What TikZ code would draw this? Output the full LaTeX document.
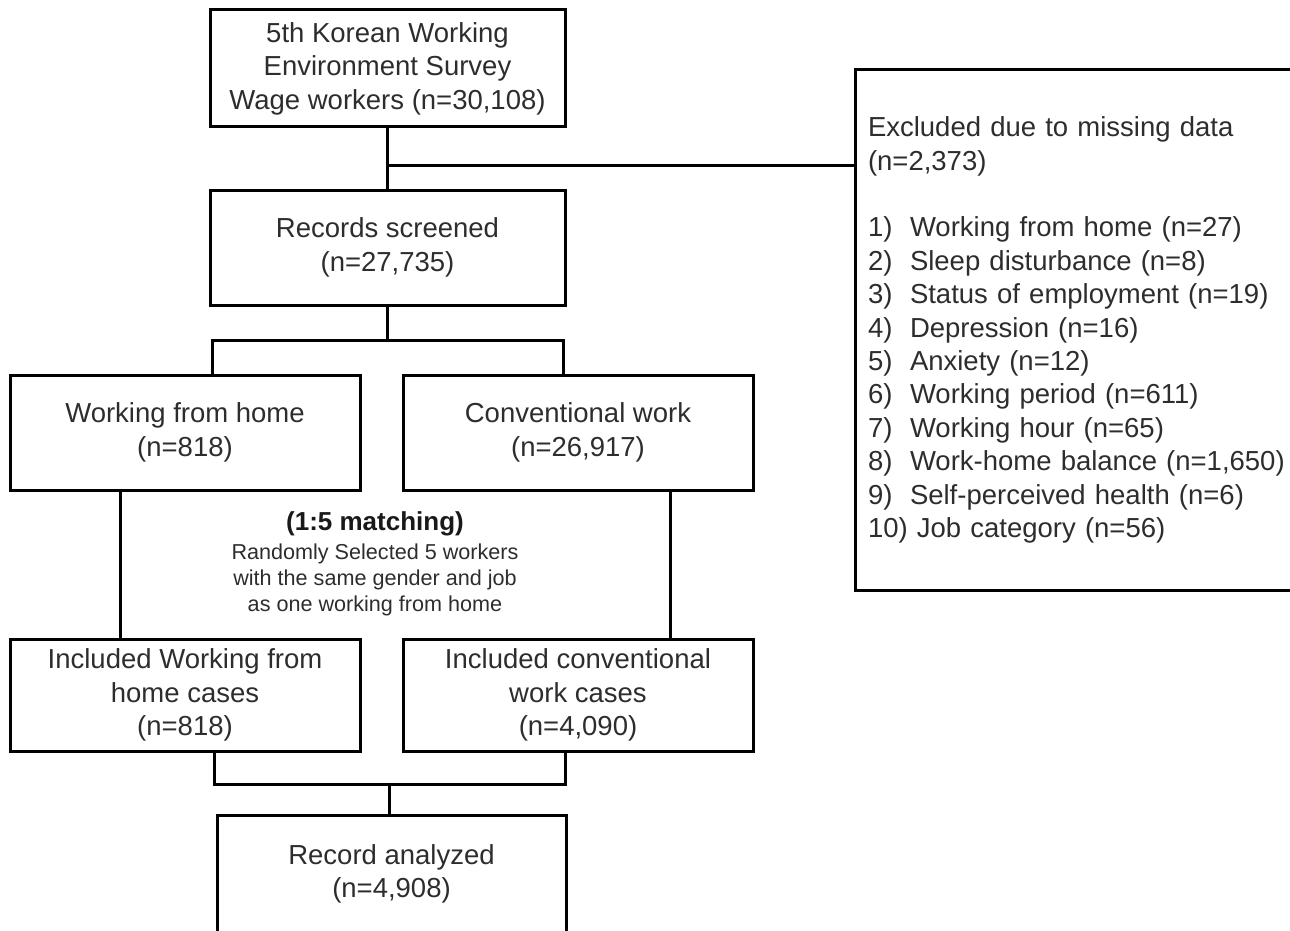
\documentclass[tikz,border=0pt]{standalone}
\usepackage{fontspec}
\setmainfont{Liberation Sans}
\usetikzlibrary{positioning,calc}
\definecolor{textgray}{RGB}{45,45,45}
\newcommand{\bodyfont}{\fontsize{27.5}{33.4}\selectfont}
\newcommand{\notefont}{\fontsize{21.6}{26}\selectfont}
\newcommand{\itm}[1]{\makebox[42pt][l]{#1)}}

\begin{document}
\begin{tikzpicture}[x=1pt, y=-1pt,
    stage/.style={draw, line width=3pt, minimum width=355pt, minimum height=116pt, font=\bodyfont, text=textgray, align=center},
    group/.style={stage, minimum width=350pt},
    exclusion/.style={draw, line width=3pt, minimum width=446pt, minimum height=520pt, text width=420pt, inner xsep=13pt, font=\bodyfont, text=textgray, align=left},
    note/.style={font=\notefont, text=textgray, align=center},
    link/.style={line width=3pt}
]
    \useasboundingbox (0,0) rectangle (1290,931);

    % Flow boxes
    \node[stage, minimum height=117pt] (survey) at (387.5, 68.5) {5th Korean Working\\Environment Survey\\Wage workers (n=30,108)};
    \node[stage, minimum height=115pt] (screened) at (387.5, 247.5) {Records screened\\(n=27,735)};
    \node[group, minimum height=115pt] (wfh) at (185, 432.5) {Working from home\\(n=818)};
    \node[group, minimum height=115pt] (conv) at (578, 432.5) {Conventional work\\(n=26,917)};
    \node[group, minimum height=112pt] (incwfh) at (185, 695) {Included Working from\\home cases\\(n=818)};
    \node[group, minimum height=112pt] (incconv) at (578, 695) {Included conventional\\work cases\\(n=4,090)};
    \node[stage, minimum width=349pt, minimum height=118pt] (analyzed) at (391.5, 874) {Record analyzed\\(n=4,908)};

    % Exclusions
    \node[exclusion] (excl) at (1078, 330) {Excluded due to missing data\\
        (n=2,373)\\[33.4pt]
        \itm{1}Working from home (n=27)\\
        \itm{2}Sleep disturbance (n=8)\\
        \itm{3}Status of employment (n=19)\\
        \itm{4}Depression (n=16)\\
        \itm{5}Anxiety (n=12)\\
        \itm{6}Working period (n=611)\\
        \itm{7}Working hour (n=65)\\
        \itm{8}Work-home balance (n=1,650)\\
        \itm{9}Self-perceived health (n=6)\\
        10) Job category (n=56)};

    % Matching note
    \node[note] (matching) at (375, 564) {{\bfseries\fontsize{26}{26}\selectfont\color{black!90}(1:5 matching)}\\[3pt]
        Randomly Selected 5 workers\\with the same gender and job\\as one working from home};

    % Connectors
    \coordinate (split) at (387.5, 165);
    \coordinate (fork) at (387.5, 340);
    \coordinate (join) at (389.5, 784);
    \draw[link] (survey) -- (screened);
    \draw[link] (split) -- (split -| excl.west);
    \draw[link] (screened) -- (fork);
    \draw[link] ($(wfh.north)+(27,0)$) |- (fork) -| ($(conv.north)+(-15,0)$);
    \draw[link] ($(wfh.south)+(-65,0)$) -- ($(incwfh.north)+(-65,0)$);
    \draw[link] ($(conv.south)+(92,0)$) -- ($(incconv.north)+(92,0)$);
    \draw[link] ($(incwfh.south)+(29,0)$) |- (join) -| ($(incconv.south)+(-13,0)$);
    \draw[link] (join) -- (join |- analyzed.north);
\end{tikzpicture}
\end{document}
